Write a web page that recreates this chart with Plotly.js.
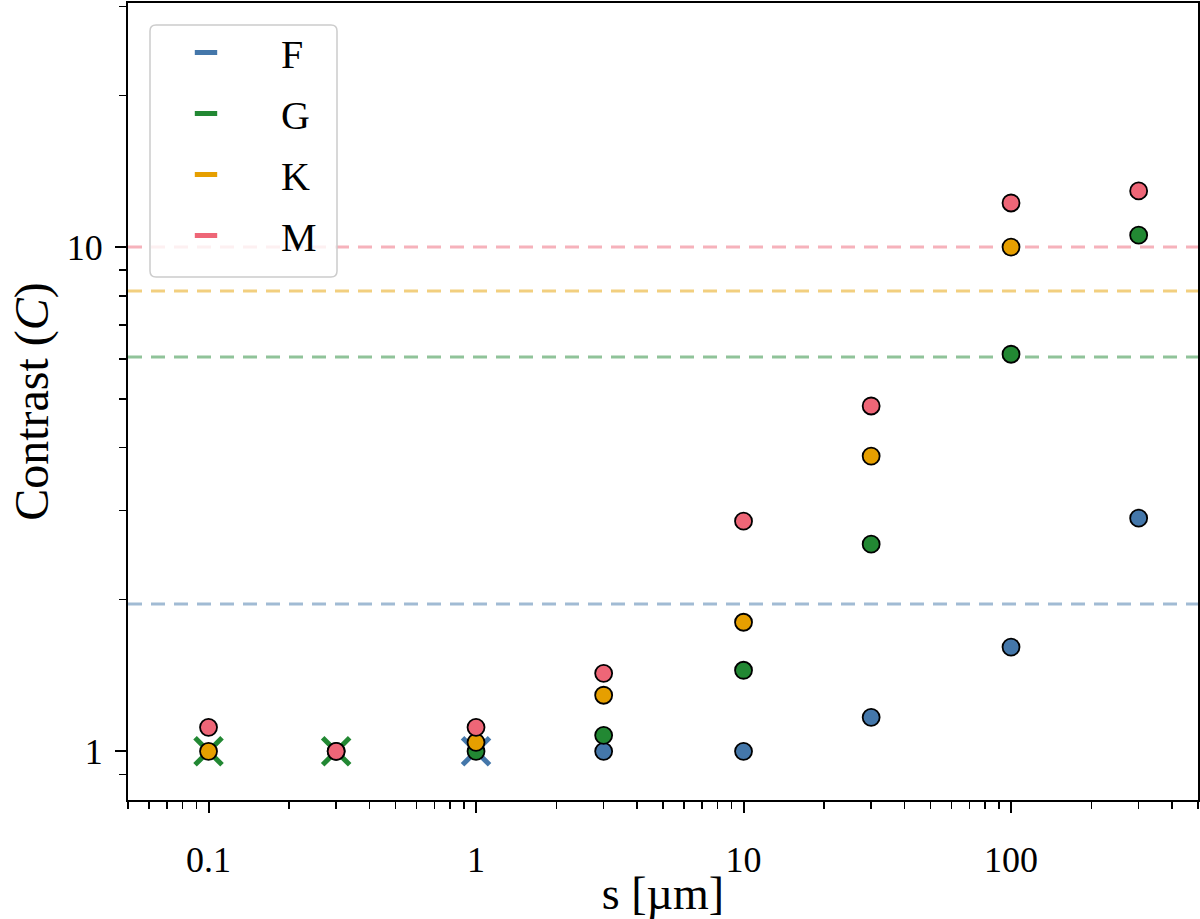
<!DOCTYPE html>
<html>
<head>
<meta charset="utf-8">
<script src="https://cdn.plot.ly/plotly-3.0.1.min.js"></script>
<style>
  html, body { margin: 0; padding: 0; background: #fff; }
  #chart { width: 1200px; height: 919px; }
</style>
</head>
<body>
<div id="chart"></div>
<script>
// Grain size s in micrometres
const sizes = [0.1, 0.3, 1, 3, 10, 30, 100, 300];

// Contrast per spectral type (null where no point is drawn)
const contrastF = [null, null, null, 1.0, 1.0, 1.168, 1.61, 2.90];
const contrastG = [null, null, 1.0, 1.076, 1.448, 2.575, 6.13, 10.56];
const contrastK = [1.0, 1.0, 1.042, 1.292, 1.803, 3.85, 10.0, null];
const contrastM = [1.116, 1.0, 1.116, 1.428, 2.86, 4.84, 12.23, 12.92];

// Cases marked with a cross
const crossSizesF = [1];
const crossValuesF = [1.0];
const crossSizesG = [0.1, 0.3];
const crossValuesG = [1.0, 1.0];

// Threshold contrast per spectral type
const spectralTypes = ['F', 'G', 'K', 'M'];
const thresholdValues = [1.96, 6.05, 8.18, 10.0];

const colors = {F: '#4477AA', G: '#228833', K: '#E69F00', M: '#EE6677'};
const fadedColors = {F: 'rgba(68,119,170,0.5)', G: 'rgba(34,136,51,0.5)',
                     K: 'rgba(230,159,0,0.5)', M: 'rgba(238,102,119,0.5)'};

const FONT = '"Liberation Serif", "Times New Roman", serif';

const traces = [];

// crosses sit underneath the circles
traces.push({
  x: crossSizesF, y: crossValuesF, type: 'scatter', mode: 'markers', showlegend: false,
  marker: {symbol: 'x-thin', size: 27, color: colors.F, line: {color: colors.F, width: 5}},
  hoverinfo: 'skip'
});
traces.push({
  x: crossSizesG, y: crossValuesG, type: 'scatter', mode: 'markers', showlegend: false,
  marker: {symbol: 'x-thin', size: 27, color: colors.G, line: {color: colors.G, width: 5}},
  hoverinfo: 'skip'
});

const seriesValues = {F: contrastF, G: contrastG, K: contrastK, M: contrastM};
spectralTypes.forEach(t => {
  traces.push({
    x: sizes, y: seriesValues[t], type: 'scatter', mode: 'markers', showlegend: false,
    marker: {symbol: 'circle', size: 17, color: colors[t], line: {color: '#000', width: 1.8}},
    name: t
  });
});

// legend entries: short thick bars
spectralTypes.forEach(t => {
  traces.push({
    x: [null], y: [null], type: 'scatter', mode: 'markers', name: t,
    legendgroup: t, showlegend: true,
    marker: {symbol: 'line-ew', size: 16, color: colors[t], line: {color: colors[t], width: 7}}
  });
});

// dashed threshold lines
const shapes = spectralTypes.map((t, i) => ({
  type: 'line', xref: 'paper', x0: 0, x1: 1, yref: 'y',
  y0: thresholdValues[i], y1: thresholdValues[i], layer: 'below',
  line: {color: fadedColors[t], width: 3, dash: '14px,9px'}
}));

// rounded, semi-opaque frame behind the legend entries
const PLOT_W = 1070, PLOT_H = 797;
const fx0 = 22 / PLOT_W, fx1 = 209 / PLOT_W;
const fyTop = 775 / PLOT_H, fyBot = 523 / PLOT_H;
const rx = 6 / PLOT_W, ry = 6 / PLOT_H;
shapes.push({
  type: 'path', xref: 'paper', yref: 'paper', layer: 'above',
  path: `M ${fx0 + rx},${fyTop} L ${fx1 - rx},${fyTop} Q ${fx1},${fyTop} ${fx1},${fyTop - ry} ` +
        `L ${fx1},${fyBot + ry} Q ${fx1},${fyBot} ${fx1 - rx},${fyBot} ` +
        `L ${fx0 + rx},${fyBot} Q ${fx0},${fyBot} ${fx0},${fyBot + ry} ` +
        `L ${fx0},${fyTop - ry} Q ${fx0},${fyTop} ${fx0 + rx},${fyTop} Z`,
  fillcolor: 'rgba(255,255,255,0.8)',
  line: {color: '#cccccc', width: 1.5}
});

const layout = {
  width: 1200, height: 919,
  margin: {l: 128, r: 2, t: 3, b: 119},
  paper_bgcolor: '#fff', plot_bgcolor: '#fff',
  font: {family: FONT, color: '#000', size: 36},
  showlegend: true,
  legend: {
    x: 0.0028, y: 0.9787, xanchor: 'left', yanchor: 'top',
    bgcolor: 'rgba(0,0,0,0)', borderwidth: 0,
    font: {family: FONT, size: 40, color: '#000'},
    traceorder: 'grouped', tracegroupgap: 6, itemwidth: 140
  },
  xaxis: {
    type: 'log', range: [Math.log10(0.05), Math.log10(500)],
    tickmode: 'linear', tick0: 0, dtick: 1,
    showgrid: false, zeroline: false,
    showline: true, mirror: true, linecolor: '#000', linewidth: 2,
    ticks: 'outside', ticklen: 11, tickwidth: 2, tickcolor: '#000',
    ticklabelstandoff: 16,
    tickfont: {family: FONT, size: 36, color: '#000'},
    minor: {ticks: 'outside', ticklen: 7, tickwidth: 1.5, tickcolor: '#000', dtick: 'D1', showgrid: false},
    title: {text: 's [µm]', font: {family: FONT, size: 46, color: '#000'}, standoff: 0}
  },
  yaxis: {
    type: 'log', range: [-0.0965, 1.484],
    tickmode: 'linear', tick0: 0, dtick: 1,
    showgrid: false, zeroline: false,
    showline: true, mirror: true, linecolor: '#000', linewidth: 2,
    ticks: 'outside', ticklen: 11, tickwidth: 2, tickcolor: '#000',
    ticklabelstandoff: 5,
    tickfont: {family: FONT, size: 36, color: '#000'},
    minor: {ticks: 'outside', ticklen: 7, tickwidth: 1.5, tickcolor: '#000', dtick: 'D1', showgrid: false},
    title: {text: 'Contrast (<i>C</i>)', font: {family: FONT, size: 48, color: '#000'}, standoff: 3}
  },
  shapes: shapes
};

Plotly.newPlot('chart', traces, layout, {displayModeBar: false, staticPlot: true});
</script>
</body>
</html>
